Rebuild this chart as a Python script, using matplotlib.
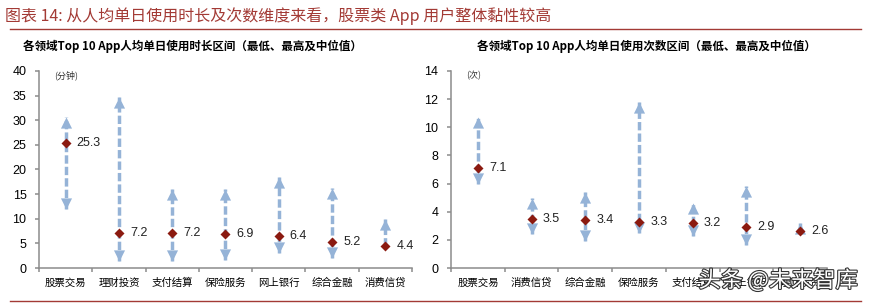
import numpy as np
from matplotlib import pyplot as plt
from matplotlib.path import Path
import matplotlib.patheffects as pe

plt.rcParams['font.family'] = ['Liberation Sans', 'Noto Sans CJK SC', 'DejaVu Sans']

# 左图：人均单日使用时长（分钟）
cats_time = ['股票交易', '理财投资', '支付结算', '保险服务', '网上银行', '综合金融', '消费信贷']
time_median = [25.3, 7.2, 7.2, 6.9, 6.4, 5.2, 4.4]
time_min = [12.0, 1.5, 1.5, 1.6, 3.1, 2.0, 4.4]
time_max = [30.7, 34.8, 16.0, 16.0, 18.4, 16.2, 9.9]

# 右图：人均单日使用次数（次）
cats_count = ['股票交易', '消费信贷', '综合金融', '保险服务', '支付结算', '网上银行', '理财投资']
count_median = [7.1, 3.5, 3.4, 3.3, 3.2, 2.9, 2.6]
count_min = [6.0, 2.4, 1.9, 2.5, 2.3, 1.6, 2.7]
count_max = [10.7, 5.0, 5.4, 11.8, 4.6, 5.8, 3.2]

cArrow = '#95B3D7'
cMark = '#8B1A10'
cRed = '#A33A35'
cGray = '#8C8C8C'
cjk = ['Noto Sans CJK SC', 'DejaVu Sans']

# 箭头：尖端在原点
tri_up = Path([(0, 0), (-0.5, -1), (0.5, -1), (0, 0)],
              [Path.MOVETO, Path.LINETO, Path.LINETO, Path.CLOSEPOLY])
tri_dn = Path([(0, 0), (-0.5, 1), (0.5, 1), (0, 0)],
              [Path.MOVETO, Path.LINETO, Path.LINETO, Path.CLOSEPOLY])


def drawRange(ax, cats, med, lo, hi, ymax, step, unit):
    x = np.arange(len(cats))
    for i in x:
        ax.plot([i, i], [lo[i], hi[i]], color=cArrow, lw=2.5,
                dashes=(2.4, 0.9), solid_capstyle='butt', zorder=2)
        if hi[i] > med[i]:
            ax.plot(i, hi[i], ls='none', marker=tri_up, ms=16, color=cArrow, mec='none', zorder=3)
        if lo[i] < med[i]:
            ax.plot(i, lo[i], ls='none', marker=tri_dn, ms=16, color=cArrow, mec='none', zorder=3)
    ax.plot(x, med, ls='none', marker='D', ms=5.5, color=cMark, mec='none', zorder=4)
    for i in x:
        ax.annotate(f'{med[i]:.1f}', (i, med[i]), xytext=(8, 0), textcoords='offset points',
                    va='center', ha='left', fontsize=9, color='#222222')
    ax.set_xlim(-0.5, len(cats) - 0.5)
    ax.set_ylim(0, ymax)
    ax.set_yticks(np.arange(0, ymax + 0.1, step))
    ax.set_xticks(x)
    ax.set_xticklabels(cats, fontfamily=cjk, fontsize=7.5)
    ax.set_xticks(np.arange(-0.5, len(cats)), minor=True)
    ax.tick_params(axis='x', which='major', length=0, pad=7)
    ax.tick_params(axis='x', which='minor', length=3, color=cGray, width=1.1)
    ax.tick_params(axis='y', length=3, color=cGray, width=1.1, labelsize=9, pad=6)
    for s in ['top', 'right']:
        ax.spines[s].set_visible(False)
    for s in ['left', 'bottom']:
        ax.spines[s].set_color(cGray)
        ax.spines[s].set_linewidth(1.1)
    ax.text(0.04, 1.0, unit, transform=ax.transAxes, fontfamily=cjk, fontsize=6.5,
            va='top', ha='left', color='#333333')


fig = plt.figure(figsize=(8.71, 3.03), dpi=100)
ax1 = fig.add_axes([0.0448, 0.1155, 0.428, 0.6505])
ax2 = fig.add_axes([0.5178, 0.1155, 0.4317, 0.6505])

drawRange(ax1, cats_time, time_median, time_min, time_max, 40, 5, '(分钟)')
drawRange(ax2, cats_count, count_median, count_min, count_max, 14, 2, '(次)')

fig.text(0.006, 0.948, '图表 14: 从人均单日使用时长及次数维度来看，股票类 App 用户整体黏性较高',
         fontfamily=cjk, fontsize=11.5, color=cRed, va='center', ha='left', style='italic')
fig.add_artist(plt.Line2D([0.012, 0.988], [0.903, 0.903], color=cRed, lw=1.0))
fig.add_artist(plt.Line2D([0.012, 0.988], [0.008, 0.008], color=cRed, lw=1.0))

fig.text(0.221, 0.848, '各领域Top 10 App人均单日使用时长区间（最低、最高及中位值）',
         fontfamily=cjk, fontsize=8.3, fontweight='bold', va='center', ha='center')
fig.text(0.742, 0.848, '各领域Top 10 App人均单日使用次数区间（最低、最高及中位值）',
         fontfamily=cjk, fontsize=8.3, fontweight='bold', va='center', ha='center')

fig.text(0.985, 0.075, '头条 @未来智库', fontfamily=cjk, fontsize=16, color='white',
         ha='right', va='center',
         path_effects=[pe.withStroke(linewidth=1.6, foreground='#333333')])

fig.savefig('out.png', dpi=100)
